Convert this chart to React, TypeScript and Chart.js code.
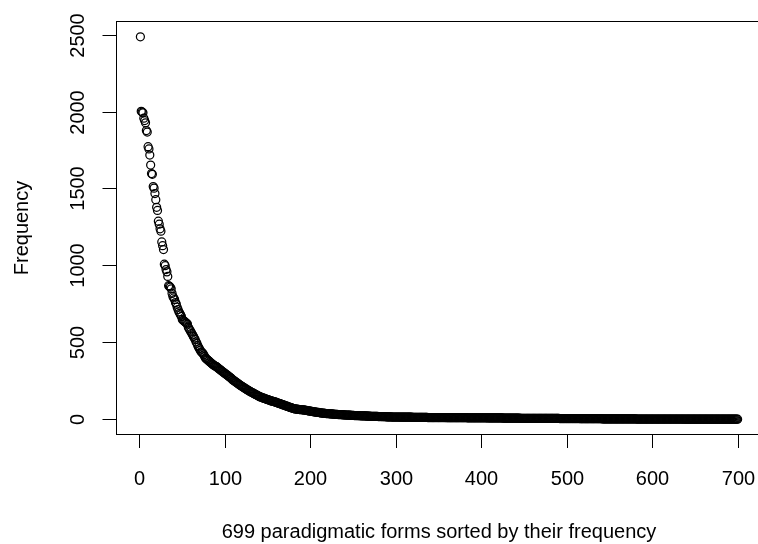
import React, { useEffect, useRef } from "react";
import { Chart, registerables } from "chart.js";

Chart.register(...registerables);

// Tick labels
const xTicks = [0, 100, 200, 300, 400, 500, 600, 700];
const yTicks = [0, 500, 1000, 1500, 2000, 2500];

const xTitle = "699 paradigmatic forms sorted by their frequency";
const yTitle = "Frequency";

// Frequencies of ranks 1–100
const freqTop = [
  2490, 2005, 2000, 1995, 1960, 1945, 1930, 1880, 1870, 1775,
  1760, 1720, 1655, 1600, 1595, 1515, 1505, 1470, 1430, 1380,
  1360, 1290, 1270, 1240, 1225, 1155, 1130, 1105, 1010, 1000,
  975, 960, 930, 870, 865, 860, 850, 820, 800, 790,
  780, 760, 750, 730, 715, 700, 690, 680, 670, 650,
  645, 640, 635, 630, 625, 620, 600, 590, 580, 570,
  560, 550, 540, 530, 520, 505, 495, 480, 470, 460,
  450, 440, 435, 430, 420, 410, 400, 395, 390, 385,
  380, 375, 370, 365, 360, 356, 352, 348, 345, 343,
  338, 333, 328, 324, 320, 315, 311, 306, 302, 298,
];

// Frequencies of ranks 101–300
const freqMid = [
  294, 290, 285, 281, 277, 272, 268, 263, 257, 253,
  249, 245, 241, 237, 233, 229, 225, 221, 217, 214,
  210, 206, 203, 199, 196, 192, 189, 186, 182, 179,
  176, 173, 170, 167, 164, 161, 158, 155, 152, 149,
  146, 144, 142, 140, 138, 136, 134, 132, 130, 128,
  126, 124, 122, 120, 118, 117, 116, 114, 112, 110,
  108, 106, 104, 102, 100, 98, 96, 94, 92, 90,
  88, 86, 84, 82, 80, 78, 76, 74, 72, 70,
  69, 68, 67, 66, 65, 65, 64, 63, 63, 62,
  62, 61, 60, 59, 58, 57, 56, 55, 54, 53,
  52, 51, 50, 49, 48, 47, 46, 45, 45, 44,
  43, 42, 41, 41, 40, 39, 39, 38, 38, 37,
  37, 36, 36, 35, 35, 34, 34, 33, 33, 32,
  32, 31, 31, 31, 30, 30, 30, 29, 29, 29,
  28, 28, 28, 27, 27, 27, 26, 26, 26, 26,
  25, 25, 25, 25, 24, 24, 24, 23, 23, 23,
  23, 22, 22, 22, 22, 21, 21, 21, 21, 20,
  20, 20, 20, 19, 19, 19, 19, 19, 18, 18,
  18, 18, 18, 17, 17, 17, 17, 17, 16, 16,
  16, 16, 16, 16, 15, 15, 15, 15, 15, 15,
];

// Frequencies of ranks 301–699
const freqTail = [
  15, 15, 15, 15, 14, 14, 14, 14, 14, 14,
  14, 14, 14, 14, 14, 14, 14, 14, 13, 13,
  13, 13, 13, 13, 13, 13, 13, 13, 13, 13,
  13, 13, 13, 13, 13, 13, 12, 12, 12, 12,
  12, 12, 12, 12, 12, 12, 12, 12, 12, 12,
  12, 12, 12, 12, 12, 12, 12, 12, 11, 11,
  11, 11, 11, 11, 11, 11, 11, 11, 11, 11,
  11, 11, 11, 11, 11, 11, 11, 11, 11, 11,
  11, 11, 10, 10, 10, 10, 10, 10, 10, 10,
  10, 10, 10, 10, 10, 10, 10, 10, 10, 10,
  10, 10, 10, 10, 10, 10, 9, 9, 9, 9,
  9, 9, 9, 9, 9, 9, 9, 9, 9, 9,
  9, 9, 9, 9, 8, 8, 8, 8, 8, 8,
  8, 8, 8, 8, 8, 8, 8, 8, 8, 8,
  8, 8, 8, 8, 7, 7, 7, 7, 7, 7,
  7, 7, 7, 7, 7, 7, 7, 7, 7, 7,
  7, 7, 7, 7, 7, 7, 6, 6, 6, 6,
  6, 6, 6, 6, 6, 6, 6, 6, 6, 6,
  6, 6, 6, 6, 6, 6, 6, 6, 6, 6,
  5, 5, 5, 5, 5, 5, 5, 5, 5, 5,
  5, 5, 5, 5, 5, 5, 5, 5, 5, 5,
  5, 5, 5, 5, 4, 4, 4, 4, 4, 4,
  4, 4, 4, 4, 4, 4, 4, 4, 4, 4,
  4, 4, 4, 4, 4, 4, 4, 4, 4, 4,
  3, 3, 3, 3, 3, 3, 3, 3, 3, 3,
  3, 3, 3, 3, 3, 3, 3, 3, 3, 3,
  3, 3, 3, 3, 3, 3, 3, 3, 3, 3,
  3, 3, 3, 3, 3, 3, 3, 3, 3, 3,
  2, 2, 2, 2, 2, 2, 2, 2, 2, 2,
  2, 2, 2, 2, 2, 2, 2, 2, 2, 2,
  2, 2, 2, 2, 2, 2, 2, 2, 2, 2,
  2, 2, 2, 2, 2, 2, 2, 2, 2, 2,
  2, 2, 2, 2, 2, 2, 2, 2, 2, 2,
  2, 2, 2, 2, 2, 1, 1, 1, 1, 1,
  1, 1, 1, 1, 1, 1, 1, 1, 1, 1,
  1, 1, 1, 1, 1, 1, 1, 1, 1, 1,
  1, 1, 1, 1, 1, 1, 1, 1, 1, 1,
  1, 1, 1, 1, 1, 1, 1, 1, 1, 1,
  1, 1, 1, 1, 1, 1, 1, 1, 1, 1,
  1, 1, 1, 1, 1, 1, 1, 1, 1,
];

const frequency = [...freqTop, ...freqMid, ...freqTail];

const FONT = '"Liberation Sans", Arial, Helvetica, sans-serif';
const CANVAS_W = 780;
const CANVAS_H = 544;

const rAxesPlugin = {
  id: "rAxes",
  afterDraw(chart: any) {
    const { ctx, chartArea: a } = chart;
    const xs = chart.scales.x;
    const ys = chart.scales.y;
    const snap = (p: number) => Math.round(p - 0.5) + 0.5;
    ctx.save();
    ctx.strokeStyle = "#000";
    ctx.fillStyle = "#000";
    ctx.lineWidth = 1;
    // box
    ctx.strokeRect(a.left, a.top, a.right - a.left, a.bottom - a.top);

    ctx.font = `20px ${FONT}`;
    // x axis ticks + labels
    ctx.textAlign = "center";
    ctx.textBaseline = "alphabetic";
    xTicks.forEach((v) => {
      const px = snap(xs.getPixelForValue(v));
      ctx.beginPath();
      ctx.moveTo(px, a.bottom);
      ctx.lineTo(px, a.bottom + 13.5);
      ctx.stroke();
      ctx.fillText(String(v), px, 484.5);
    });
    // y axis ticks + labels
    yTicks.forEach((v) => {
      const py = snap(ys.getPixelForValue(v));
      ctx.beginPath();
      ctx.moveTo(a.left - 14, py);
      ctx.lineTo(a.left, py);
      ctx.stroke();
      ctx.save();
      ctx.translate(83.5, py);
      ctx.rotate(-Math.PI / 2);
      ctx.fillText(String(v), 0, 0);
      ctx.restore();
    });
    // titles
    ctx.fillText(xTitle, (a.left + a.right) / 2, 537.5);
    ctx.save();
    ctx.translate(28, (a.top + a.bottom) / 2);
    ctx.rotate(-Math.PI / 2);
    ctx.fillText(yTitle, 0, 0);
    ctx.restore();
    ctx.restore();
  },
};

export default function App() {
  const canvasRef = useRef<HTMLCanvasElement | null>(null);

  useEffect(() => {
    const canvas = canvasRef.current;
    if (!canvas) return;
    const chart = new Chart(canvas, {
      type: "scatter",
      data: {
        datasets: [
          {
            data: frequency.map((v, i) => ({ x: i + 1, y: v })),
            showLine: false,
            pointStyle: "circle",
            pointRadius: 4,
            pointBorderWidth: 1.25,
            borderColor: "#000",
            backgroundColor: "rgba(0,0,0,0)",
            pointHoverRadius: 4,
          },
        ],
      },
      options: {
        responsive: false,
        animation: false,
        devicePixelRatio: 1,
        events: [],
        layout: {
          padding: { left: 116.5, top: 21.5, right: CANVAS_W - 761.5, bottom: CANVAS_H - 434.5 },
        },
        plugins: { legend: { display: false }, tooltip: { enabled: false } },
        scales: {
          x: { type: "linear", min: -26.92, max: 726.92, display: false },
          y: { type: "linear", min: -98.56, max: 2589.56, display: false },
        },
      },
      plugins: [rAxesPlugin],
    });
    return () => chart.destroy();
  }, []);

  return (
    <div
      style={{
        position: "fixed",
        left: 0,
        top: 0,
        width: 758,
        height: 544,
        overflow: "hidden",
        background: "#fff",
      }}
    >
      <canvas
        ref={canvasRef}
        width={CANVAS_W}
        height={CANVAS_H}
        style={{ width: CANVAS_W, height: CANVAS_H, display: "block" }}
      />
    </div>
  );
}
